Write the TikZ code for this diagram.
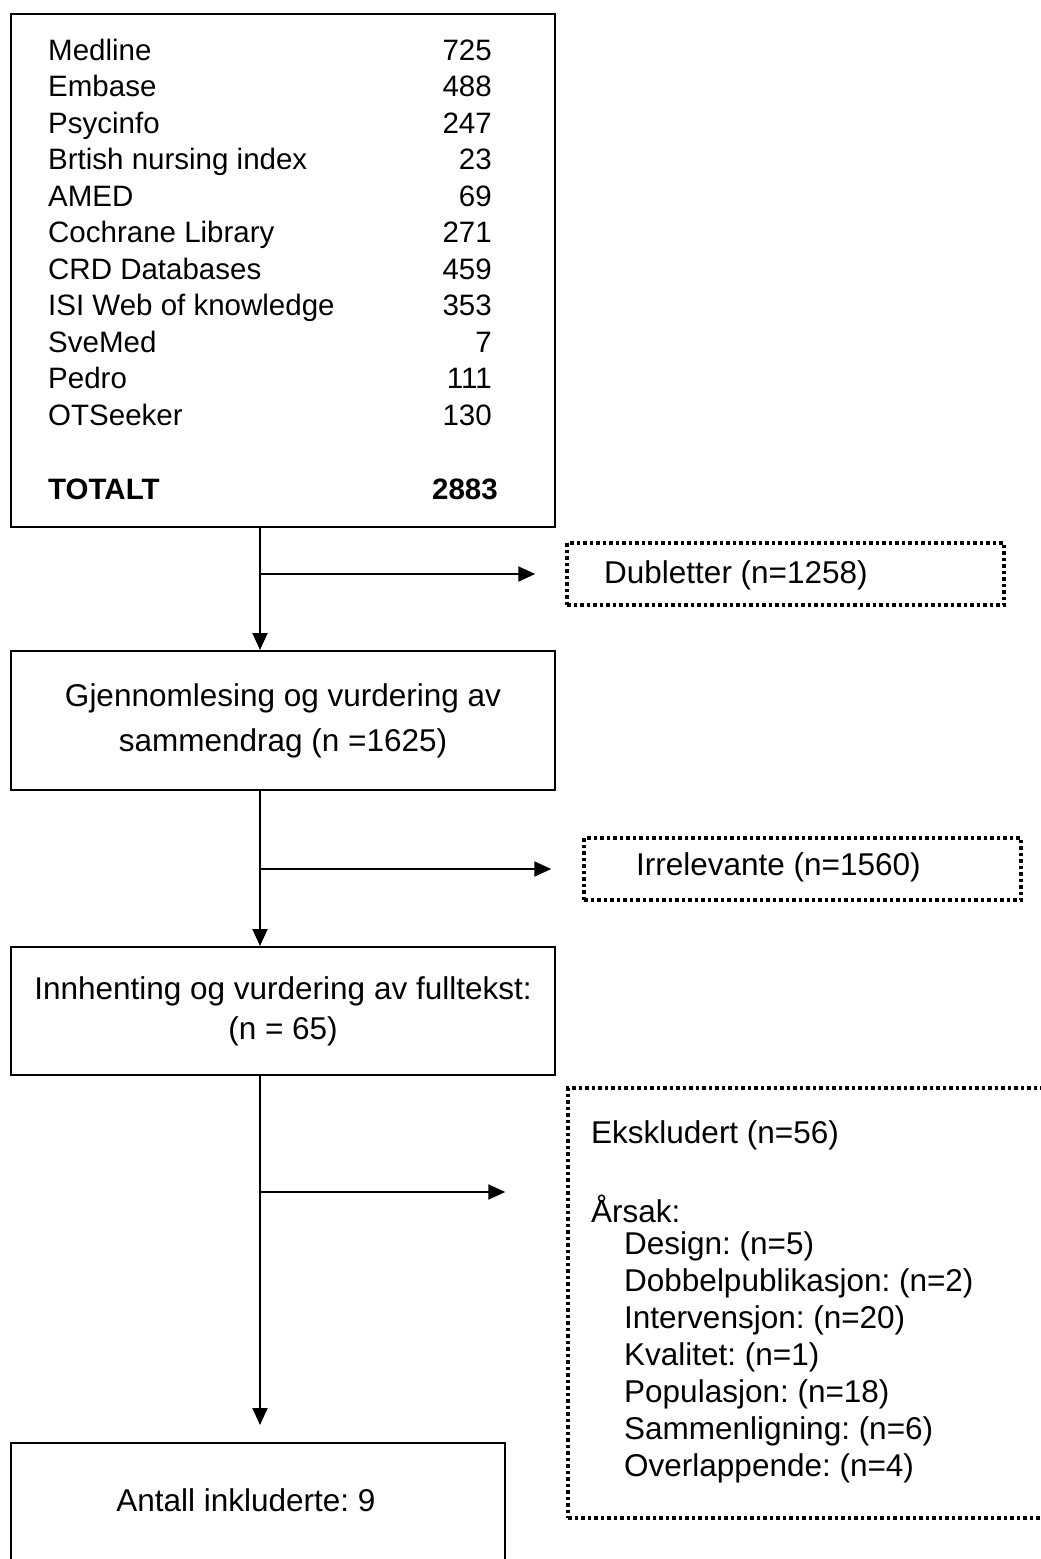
\documentclass[tikz,border=0pt]{standalone}
\usepackage{fontspec}
\setmainfont{Liberation Sans}
\usetikzlibrary{arrows.meta}
\frenchspacing
\begin{document}
\begin{tikzpicture}[x=1pt,y=-1pt,
  box/.style={draw,line width=2pt,inner sep=0pt},
  dotbox/.style={draw,line width=3.5pt,dash pattern=on 3.5pt off 3pt,inner sep=0pt},
  arr/.style={line width=2pt,-{Triangle[length=17pt,width=15pt]}},
  lst/.style={font=\fontsize{29.5}{36}\selectfont,inner sep=0pt},
  txt/.style={font=\fontsize{31.5}{45}\selectfont,inner sep=0pt}]
\clip (0,0) rectangle (1041,1559);
% top box
\node[box,minimum width=544pt,minimum height=513pt] (b1) at (283,270.5) {};
\foreach \n/\v [count=\i] in {Medline/725,Embase/488,Psycinfo/247,Brtish nursing index/23,AMED/69,Cochrane Library/271,CRD Databases/459,ISI Web of knowledge/353,SveMed/7,Pedro/111,OTSeeker/130}{
  \node[lst,anchor=base west] (l\i) at (48,{60+36.5*(\i-1)}) {\n};
  \node[lst,anchor=base east] (v\i) at (492,{60+36.5*(\i-1)}) {\v};
}
\node[lst,anchor=base west,font=\fontsize{29.5}{36}\selectfont\bfseries] (tot) at (48,499) {TOTALT};
\node[lst,anchor=base east,font=\fontsize{29.5}{36}\selectfont\bfseries] (totv) at (498,499) {2883};
% second box
\node[box,txt,align=center,minimum width=544pt,minimum height=139pt] (b2) at (283,720.5)
  {Gjennomlesing og vurdering av\\sammendrag (n =1625)};
% third box
\node[box,txt,align=center,minimum width=544pt,minimum height=128pt,font=\fontsize{31.5}{40}\selectfont] (b3) at (283,1011)
  {Innhenting og vurdering av fulltekst:\\(n = 65)};
% bottom box
\node[box,minimum width=494pt,minimum height=140pt] (bot) at (258,1513) {};
\node[txt] (bott) at (246,1500) {Antall inkluderte: 9};
% dotted boxes
\node[dotbox,minimum width=437pt,minimum height=62pt] (dub) at (785.5,574) {};
\node[txt,anchor=west] (dubt) at (604,575) {Dubletter (n=1258)};
\node[dotbox,minimum width=437pt,minimum height=62pt] (irr) at (802.5,869) {};
\node[txt,anchor=west] (irrt) at (636,867) {Irrelevante (n=1560)};
\node[dotbox,minimum width=520pt,minimum height=430pt] (eks) at (828,1303) {};
\node[txt,anchor=west] (ekst) at (591,1135) {Ekskludert (n=56)};
\node[txt,anchor=west] (aars) at (591,1209) {Årsak:};
\foreach \t [count=\i] in {Design: (n=5),Dobbelpublikasjon: (n=2),Intervensjon: (n=20),Kvalitet: (n=1),Populasjon: (n=18),Sammenligning: (n=6),Overlappende: (n=4)}{
  \node[txt,anchor=west] (r\i) at (624,{1246+37*(\i-1)}) {\t};
}
% connectors
\coordinate (tr) at (260,0);
\coordinate (e3) at (260,1192);
\draw[arr] (b1.south -| tr) -- (b2.north -| tr);
\draw[arr,shorten >=30pt] (tr |- dub.west) -- (dub.west);
\draw[arr] (b2.south -| tr) -- (b3.north -| tr);
\draw[arr,shorten >=31pt] (tr |- irr.west) -- (irr.west);
\draw[arr,shorten >=17pt] (b3.south -| tr) -- (bot.north -| tr);
\draw[arr,shorten >=61pt] (e3) -- (e3 -| eks.west);
\end{tikzpicture}
\end{document}
